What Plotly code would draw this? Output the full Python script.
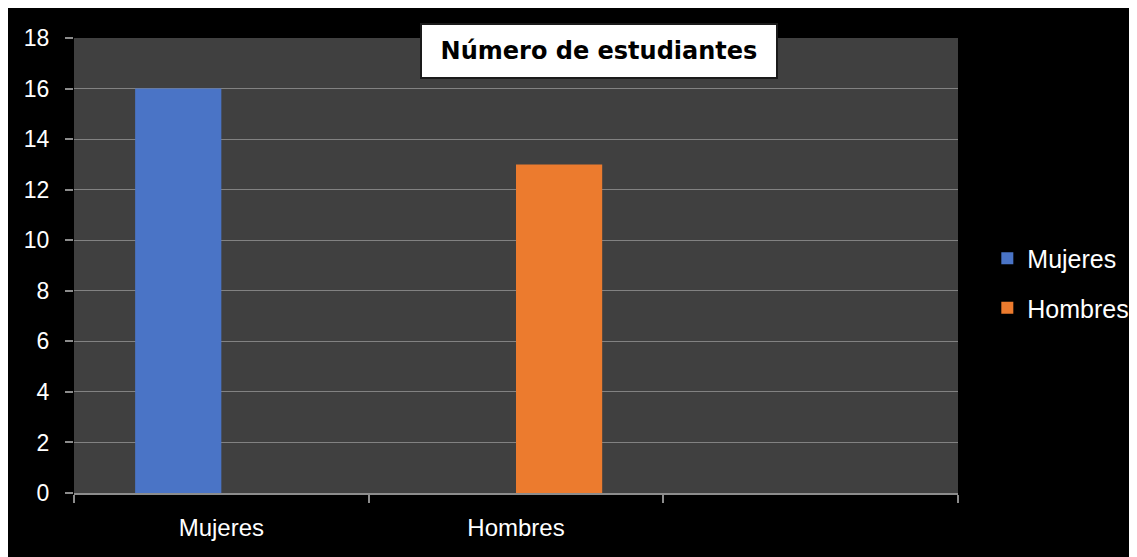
import plotly.graph_objects as go

categories = ["Mujeres", "Hombres", " "]
series_names = ["Mujeres", "Hombres"]
mujeres_values = [16, None, None]
hombres_values = [None, 13, None]
y_ticks = [0, 2, 4, 6, 8, 10, 12, 14, 16, 18]
title_text = "Número de estudiantes"

colors = {"Mujeres": "#4a74c6", "Hombres": "#ec7b2e"}

fig = go.Figure()
fig.add_trace(go.Bar(name=series_names[0], x=categories, y=mujeres_values,
                     marker=dict(color=colors["Mujeres"], line=dict(width=0)),
                     legendgroup="a"))
fig.add_trace(go.Bar(name=series_names[1], x=categories, y=hombres_values,
                     marker=dict(color=colors["Hombres"], line=dict(width=0)),
                     legendgroup="b"))

font_family = "Liberation Sans, Arial, sans-serif"

fig.update_layout(
    width=1137, height=557,
    paper_bgcolor="black",
    plot_bgcolor="#404040",
    margin=dict(l=66, r=186, t=30, b=72),
    barmode="group",
    bargap=0.415,
    bargroupgap=0,
    showlegend=True,
    legend=dict(x=1.032, y=0.4615, xanchor="left", yanchor="middle",
                font=dict(family=font_family, size=25, color="white"),
                bgcolor="rgba(0,0,0,0)", tracegroupgap=14, traceorder="grouped",
                itemclick=False),
    xaxis=dict(type="category", categoryorder="array", categoryarray=categories,
               tickfont=dict(family=font_family, size=24, color="white"),
               ticks="outside", tickson="boundaries",
               ticklen=8, tickwidth=1.5, tickcolor="#8c8c8c",
               showline=True, linecolor="#8c8c8c", linewidth=1.5,
               showgrid=False, ticklabelstandoff=12, fixedrange=True),
    yaxis=dict(range=[0, 18], tickvals=y_ticks,
               tickfont=dict(family=font_family, size=23, color="white"),
               ticks="outside", ticklen=8, tickwidth=1.5, tickcolor="#8c8c8c",
               showgrid=True, gridcolor="#828282", gridwidth=1.2,
               zeroline=False, showline=False, ticklabelstandoff=11, fixedrange=True),
    annotations=[dict(text="<b>" + title_text + "</b>", xref="paper", yref="paper",
                      x=0.594, y=0.972, xanchor="center", yanchor="middle",
                      showarrow=False, width=352, height=50,
                      bgcolor="white", bordercolor="#1a1a1a", borderwidth=2, borderpad=1,
                      font=dict(family="DejaVu Sans, Verdana, sans-serif", size=24, color="black"))],
)

fig.write_html("out.html", config={"displayModeBar": False})
